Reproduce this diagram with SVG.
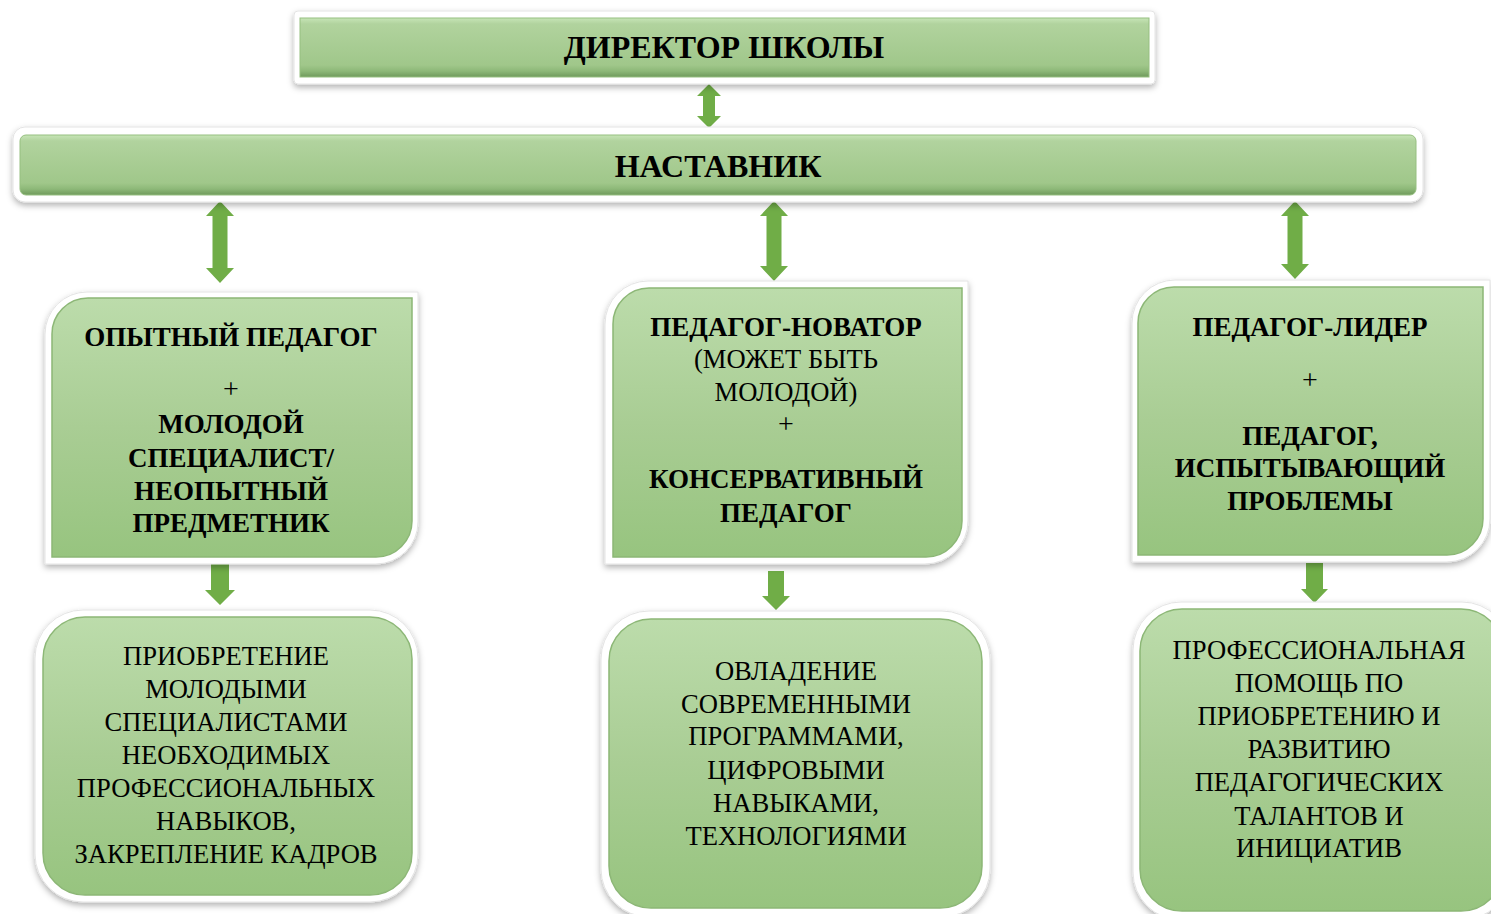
<svg xmlns="http://www.w3.org/2000/svg" width="1491" height="914" viewBox="0 0 1491 914">
<defs>
  <linearGradient id="gBar" x1="0" y1="0" x2="0" y2="1">
    <stop offset="0" stop-color="#c7e5b7"/>
    <stop offset="0.1" stop-color="#b1d39e"/>
    <stop offset="0.8" stop-color="#a0c78a"/>
    <stop offset="0.9" stop-color="#8db878"/>
    <stop offset="1" stop-color="#6f9a5c"/>
  </linearGradient>
  <linearGradient id="gBox" x1="0" y1="0" x2="0" y2="1">
    <stop offset="0" stop-color="#bcdcab"/>
    <stop offset="0.5" stop-color="#a9cd94"/>
    <stop offset="1" stop-color="#97c47f"/>
  </linearGradient>
  <filter id="sh" x="-10%" y="-20%" width="120%" height="150%">
    <feDropShadow dx="0" dy="3" stdDeviation="3" flood-color="#000" flood-opacity="0.3"/>
  </filter>
  <style>
    .frame{fill:#fff;stroke:#e4e4e4;stroke-width:1;filter:url(#sh)}
    .bar{fill:url(#gBar);stroke:#96bf80;stroke-width:1}
    .box{fill:url(#gBox);stroke:#8cb776;stroke-width:1.5}
    .arr{fill:#70ad47;stroke:#fff;stroke-width:3;paint-order:stroke;stroke-linejoin:miter}
    text{font-family:"Liberation Serif","Times New Roman",serif;fill:#000;text-anchor:middle}
    .b{font-weight:bold;font-size:27px}
    .r{font-size:26.6px}
    .p{font-size:28px}
    .t{font-weight:bold;font-size:32px}
  </style>
</defs>

<g id="connectors">
  <polygon class="arr" points="709,84 721,96 715,96 715,116 721,116 709,128 697,116 703,116 703,96 697,96"/>
  <polygon class="arr" points="220,201 234,216 227.5,216 227.5,268 234,268 220,283 206,268 212.5,268 212.5,216 206,216"/>
  <polygon class="arr" points="774,201 788,216 781.5,216 781.5,266 788,266 774,281 760,266 766.5,266 766.5,216 760,216"/>
  <polygon class="arr" points="1295,201 1309,216 1302.5,216 1302.5,264 1309,264 1295,279 1281,264 1287.5,264 1287.5,216 1281,216"/>
  <polygon class="arr" points="211,564 229,564 229,590 235,590 220,605 205,590 211,590"/>
  <polygon class="arr" points="768,571 784,571 784,596 790,596 776,610 762,596 768,596"/>
  <polygon class="arr" points="1306,563 1323,563 1323,589 1328,589 1314.5,603 1301,589 1306,589"/>
</g>

<g id="director">
  <rect class="frame" x="294" y="11" width="861" height="73" rx="4"/>
  <rect class="bar" x="300" y="18" width="849" height="59"/>
  <text class="t" x="724" y="58">ДИРЕКТОР ШКОЛЫ</text>
</g>

<g id="mentor">
  <rect class="frame" x="13" y="127" width="1410" height="75" rx="12"/>
  <rect class="bar" x="20" y="135" width="1396" height="60" rx="6"/>
  <text class="t" x="718" y="177">НАСТАВНИК</text>
</g>

<g id="pair1">
  <path class="frame" d="M45,334 A42,42 0 0 1 87,292 H418 V522 A42,42 0 0 1 376,564 H45 Z"/>
  <path class="box" d="M52,334 A36,36 0 0 1 88,298 H412 V521 A36,36 0 0 1 376,557 H52 Z"/>
  <text class="b" x="231" y="346">ОПЫТНЫЙ ПЕДАГОГ</text>
  <text class="p" x="231" y="398">+</text>
  <text class="b" x="231" y="433">МОЛОДОЙ</text>
  <text class="b" x="231" y="467">СПЕЦИАЛИСТ/</text>
  <text class="b" x="231" y="500">НЕОПЫТНЫЙ</text>
  <text class="b" x="231" y="532">ПРЕДМЕТНИК</text>
</g>

<g id="pair2">
  <path class="frame" d="M605,324 A43,43 0 0 1 648,281 H968 V521 A43,43 0 0 1 925,564 H605 Z"/>
  <path class="box" d="M613,324 A36,36 0 0 1 649,288 H962 V521 A36,36 0 0 1 926,557 H613 Z"/>
  <text class="b" x="786" y="336">ПЕДАГОГ-НОВАТОР</text>
  <text class="r" x="786" y="368">(МОЖЕТ БЫТЬ</text>
  <text class="r" x="786" y="401">МОЛОДОЙ)</text>
  <text class="p" x="786" y="433">+</text>
  <text class="b" x="786" y="488">КОНСЕРВАТИВНЫЙ</text>
  <text class="b" x="786" y="522">ПЕДАГОГ</text>
</g>

<g id="pair3">
  <path class="frame" d="M1132,323 A43,43 0 0 1 1175,280 H1490 V519 A43,43 0 0 1 1447,562 H1132 Z"/>
  <path class="box" d="M1138,323 A36,36 0 0 1 1174,287 H1483 V519 A36,36 0 0 1 1447,555 H1138 Z"/>
  <text class="b" x="1310" y="336">ПЕДАГОГ-ЛИДЕР</text>
  <text class="p" x="1310" y="389">+</text>
  <text class="b" x="1310" y="445">ПЕДАГОГ,</text>
  <text class="b" x="1310" y="477">ИСПЫТЫВАЮЩИЙ</text>
  <text class="b" x="1310" y="510">ПРОБЛЕМЫ</text>
</g>

<g id="result1">
  <rect class="frame" x="35" y="610" width="383" height="292" rx="48"/>
  <rect class="box" x="43" y="617" width="369" height="278" rx="42"/>
  <text class="r" x="226" y="665">ПРИОБРЕТЕНИЕ</text>
  <text class="r" x="226" y="698">МОЛОДЫМИ</text>
  <text class="r" x="226" y="731">СПЕЦИАЛИСТАМИ</text>
  <text class="r" x="226" y="764">НЕОБХОДИМЫХ</text>
  <text class="r" x="226" y="797">ПРОФЕССИОНАЛЬНЫХ</text>
  <text class="r" x="226" y="830">НАВЫКОВ,</text>
  <text class="r" x="226" y="863">ЗАКРЕПЛЕНИЕ КАДРОВ</text>
</g>

<g id="result2">
  <rect class="frame" x="601" y="611" width="389" height="306" rx="48"/>
  <rect class="box" x="609" y="619" width="373" height="289" rx="42"/>
  <text class="r" x="796" y="680">ОВЛАДЕНИЕ</text>
  <text class="r" x="796" y="713">СОВРЕМЕННЫМИ</text>
  <text class="r" x="796" y="745">ПРОГРАММАМИ,</text>
  <text class="r" x="796" y="779">ЦИФРОВЫМИ</text>
  <text class="r" x="796" y="812">НАВЫКАМИ,</text>
  <text class="r" x="796" y="845">ТЕХНОЛОГИЯМИ</text>
</g>

<g id="result3">
  <rect class="frame" x="1133" y="602" width="377" height="318" rx="48"/>
  <rect class="box" x="1140" y="609" width="363" height="302" rx="42"/>
  <text class="r" x="1319" y="659">ПРОФЕССИОНАЛЬНАЯ</text>
  <text class="r" x="1319" y="692">ПОМОЩЬ ПО</text>
  <text class="r" x="1319" y="725">ПРИОБРЕТЕНИЮ И</text>
  <text class="r" x="1319" y="758">РАЗВИТИЮ</text>
  <text class="r" x="1319" y="791">ПЕДАГОГИЧЕСКИХ</text>
  <text class="r" x="1319" y="825">ТАЛАНТОВ И</text>
  <text class="r" x="1319" y="857">ИНИЦИАТИВ</text>
</g>
</svg>
